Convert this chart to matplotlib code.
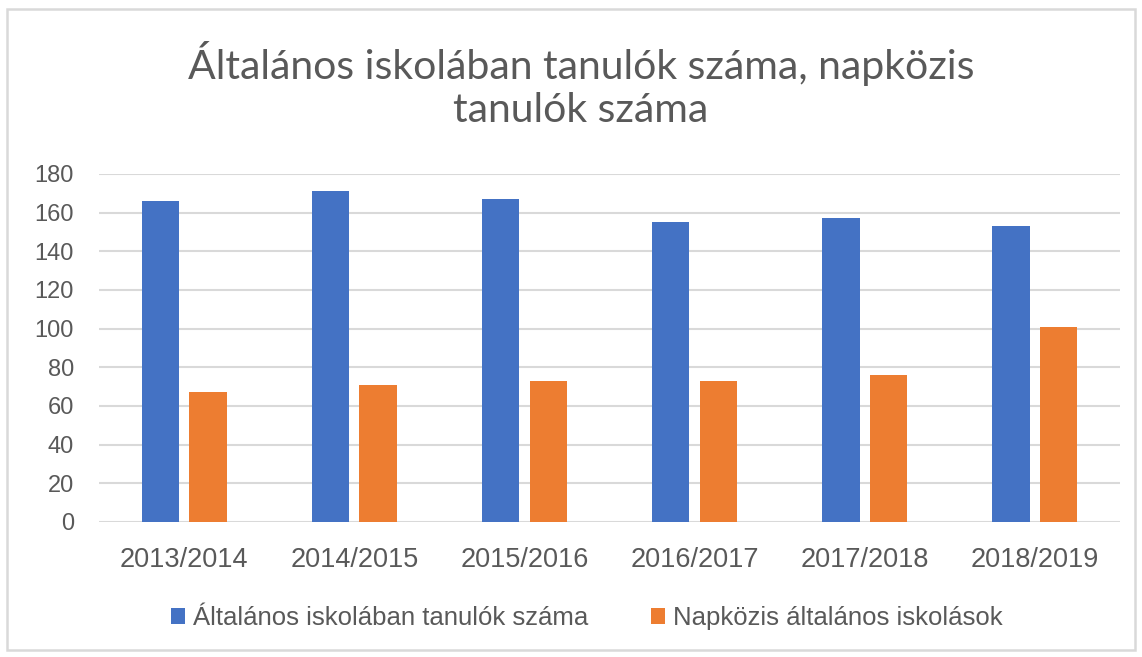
import numpy as np
import matplotlib
matplotlib.use('Agg')
import matplotlib.pyplot as plt
from matplotlib.patches import Rectangle

# Data
years = ['2013/2014', '2014/2015', '2015/2016', '2016/2017', '2017/2018', '2018/2019']
tanulok = [166, 171, 167, 155, 157, 153]
napkozis = [67, 71, 73, 73, 76, 101]
series_names = ['Általános iskolában tanulók száma', 'Napközis általános iskolások']

blue = '#4472C4'
orange = '#ED7D31'
text_col = '#595959'

fig = plt.figure(figsize=(11.42, 6.57), dpi=100)
W, H = 1142, 657
ax = fig.add_axes([99 / W, 1 - 522 / H, (1120 - 99) / W, (522 - 174) / H])

x = np.arange(len(years))
bw = 0.22
ax.bar(x - 0.14, tanulok, width=bw, color=blue, label=series_names[0], zorder=3)
ax.bar(x + 0.14, napkozis, width=bw, color=orange, label=series_names[1], zorder=3)

ax.set_xlim(-0.5, len(years) - 0.5)
ax.set_ylim(0, 180)
ax.set_yticks(range(0, 181, 20))
ax.yaxis.grid(True, color='#D9D9D9', linewidth=1.5, zorder=0)
ax.set_axisbelow(True)
for s in ax.spines.values():
    s.set_visible(False)
ax.tick_params(axis='both', length=0)
ax.tick_params(axis='y', pad=18)
ax.tick_params(axis='x', pad=18)
ax.set_xticks(x)
ax.set_xticklabels(years, family='Liberation Sans', fontsize=19.5, color=text_col)
for lbl in ax.get_yticklabels():
    lbl.set_family('Liberation Sans')
    lbl.set_fontsize(17)
    lbl.set_color(text_col)

# title, two lines like in the original
fig.text(581 / W, 1 - 79 / H, 'Általános iskolában tanulók száma, napközis',
         ha='center', va='baseline', fontsize=29.5, color=text_col,
         family='Lato', fontweight='normal')
fig.text(581 / W, 1 - 122 / H, 'tanulók száma',
         ha='center', va='baseline', fontsize=29.5, color=text_col,
         family='Lato', fontweight='normal')

fig.legend(loc='center', bbox_to_anchor=(0.514, 1 - 618 / H), ncol=2, frameon=False,
           labelcolor=text_col, handlelength=0.55, handleheight=0.6,
           handletextpad=0.31, columnspacing=2.45,
           prop={'family': 'Liberation Sans', 'size': 18.5})

# chart border
fig.patches.append(Rectangle((7 / W, 1 - 650 / H), (1135 - 7) / W, (650 - 9) / H,
                             transform=fig.transFigure, fill=False,
                             edgecolor='#D9D9D9', linewidth=1.8))

fig.savefig('out.png', dpi=100)
